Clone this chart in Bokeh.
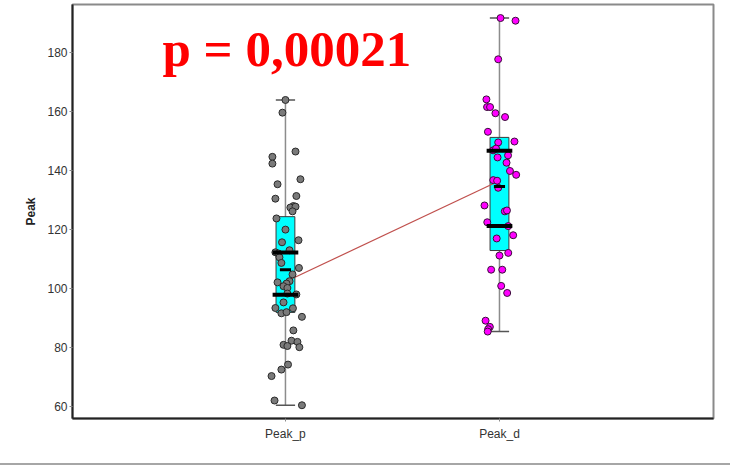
from bokeh.plotting import figure
from bokeh.models import Range1d, FixedTicker, Label, Div
from bokeh.layouts import column
from bokeh.embed import file_html
from bokeh.resources import INLINE

# ---------------- data ----------------
categories = ["Peak_p", "Peak_d"]
cat_pos = [1, 2]

peak_p = [164.0, 159.7, 146.5, 144.7, 142.4, 137.1, 135.4, 131.4, 130.5, 128.0,
          127.5, 127.8, 126.2, 123.8, 120.0, 116.4, 115.7, 112.3, 111.9, 113.0,
          110.6, 108.7, 107.0, 104.8, 102.5, 101.7, 100.8, 100.2, 102.1, 98.3,
          98.0, 95.3, 93.4, 93.3, 91.6, 92.0, 90.4, 85.8, 82.3, 81.9,
          80.1, 80.9, 80.5, 74.2, 72.5, 70.3, 62.0, 60.4]
peak_p_jitter = [0.0, -0.014, 0.047, -0.061, -0.061, 0.070, -0.037, 0.051, -0.047, 0.037,
                 0.023, 0.047, 0.033, -0.042, 0.0, 0.061, -0.016, -0.047, -0.033, 0.019,
                 -0.028, -0.019, 0.063, 0.033, 0.019, 0.005, -0.009, 0.009, -0.037, 0.009,
                 0.051, -0.009, -0.047, 0.035, -0.019, 0.005, 0.077, 0.037, 0.028, 0.056,
                 0.065, -0.009, 0.009, 0.012, -0.019, -0.065, -0.051, 0.077]

peak_d = [191.8, 190.9, 177.8, 164.2, 161.6, 161.6, 159.5, 158.2, 153.2, 149.6,
          149.9, 146.9, 147.5, 145.2, 144.5, 142.7, 139.9, 138.6, 136.8, 136.6,
          134.2, 128.2, 126.2, 126.5, 122.5, 121.2, 118.1, 117.0, 111.2, 112.1,
          106.4, 106.4, 100.9, 98.5, 89.1, 87.0, 86.2, 85.4]
peak_d_jitter = [0.005, 0.075, -0.006, -0.061, -0.058, -0.044, -0.019, 0.026, -0.054, -0.006,
                 0.070, -0.030, -0.016, 0.040, -0.009, 0.033, 0.049, 0.078, -0.029, -0.011,
                 -0.006, -0.070, 0.025, 0.035, -0.057, 0.041, 0.064, -0.013, 0.0, 0.041,
                 -0.039, 0.013, 0.008, 0.036, -0.065, -0.045, -0.053, -0.055]

box_low = [91.9, 112.9]
box_high = [124.4, 151.3]
whisker_low = [60.4, 85.4]
whisker_high = [164.0, 191.8]
upper_bar = [112.2, 146.8]
lower_bar = [97.9, 121.2]
mean_bar = [106.4, 134.6]
trend = [102.3, 136.6]

p_value_text = "p = 0,00021"
y_ticks = [60, 80, 100, 120, 140, 160, 180]

# ---------------- figure ----------------
p = figure(width=730, height=463, output_backend="svg", toolbar_location=None,
           x_range=Range1d(0.005, 3.0), y_range=Range1d(55.9, 196.4),
           min_border_left=72, min_border_right=17, min_border_top=4,
           min_border_bottom=45)

p.background_fill_color = "white"
p.border_fill_color = "white"
p.xgrid.visible = False
p.ygrid.visible = False
p.outline_line_color = "#8a8a8a"
p.outline_line_width = 2

# axes
p.xaxis.ticker = FixedTicker(ticks=cat_pos)
p.xaxis.major_label_overrides = {c: n for c, n in zip(cat_pos, categories)}
p.yaxis.ticker = FixedTicker(ticks=y_ticks)
for ax in (p.xaxis[0], p.yaxis[0]):
    ax.axis_line_color = "#222222"
    ax.axis_line_width = 2
    ax.major_tick_line_color = "#8a8a8a"
    ax.major_tick_out = 3
    ax.major_tick_in = 0
    ax.minor_tick_line_color = None
    ax.major_label_text_font = "Liberation Sans"
    ax.major_label_text_font_size = "12px"
    ax.major_label_text_color = "#333333"
    ax.major_label_standoff = 2
p.xaxis.major_label_standoff = 5
p.yaxis.axis_label = "Peak"
p.yaxis.axis_label_text_font = "Liberation Sans"
p.yaxis.axis_label_text_font_size = "12px"
p.yaxis.axis_label_text_font_style = "bold"
p.yaxis.axis_label_text_color = "#222222"
p.yaxis.axis_label_standoff = 6

# whiskers
p.segment(x0=cat_pos, y0=whisker_low, x1=cat_pos, y1=whisker_high,
          line_color="#8c8c8c", line_width=1.5)
cap_half = 0.045
p.segment(x0=[c - cap_half for c in cat_pos], y0=whisker_low,
          x1=[c + cap_half for c in cat_pos], y1=whisker_low,
          line_color="#555555", line_width=1.5)
p.segment(x0=[c - cap_half for c in cat_pos], y0=whisker_high,
          x1=[c + cap_half for c in cat_pos], y1=whisker_high,
          line_color="#555555", line_width=1.5)

# boxes
p.vbar(x=cat_pos, bottom=box_low, top=box_high, width=0.088,
       fill_color="#00ffff", line_color="#3a3a3a", line_width=1)

# trend line
p.line(x=cat_pos, y=trend, line_color="#c0504d", line_width=1.2)

# points
p.scatter(x=[cat_pos[0] + j for j in peak_p_jitter], y=peak_p, size=7,
          fill_color="#7a7a7a", line_color="#2a2a2a", line_width=1)
p.scatter(x=[cat_pos[1] + j for j in peak_d_jitter], y=peak_d, size=7,
          fill_color="#ff00ff", line_color="#3a103a", line_width=1)

# summary bars
bar_half = 0.06
for vals in (upper_bar, lower_bar):
    p.segment(x0=[c - bar_half for c in cat_pos], y0=vals,
              x1=[c + bar_half for c in cat_pos], y1=vals,
              line_color="black", line_width=4)
mean_half = 0.026
p.segment(x0=[c - mean_half for c in cat_pos], y0=mean_bar,
          x1=[c + mean_half for c in cat_pos], y1=mean_bar,
          line_color="black", line_width=3)

# p-value label
p.add_layout(Label(x=90, y=370, x_units="screen", y_units="screen",
                   text=p_value_text, text_font="Liberation Serif",
                   text_font_style="bold", text_font_size="51px",
                   text_color="#ff0000", text_baseline="alphabetic"))

rule = Div(text="", width=730, height=2, margin=(0, 0, 0, 0),
           styles={"background-color": "#a6a6a6"})

layout = column(p, rule, spacing=0)

open("out.html", "w").write(file_html(layout, INLINE))
